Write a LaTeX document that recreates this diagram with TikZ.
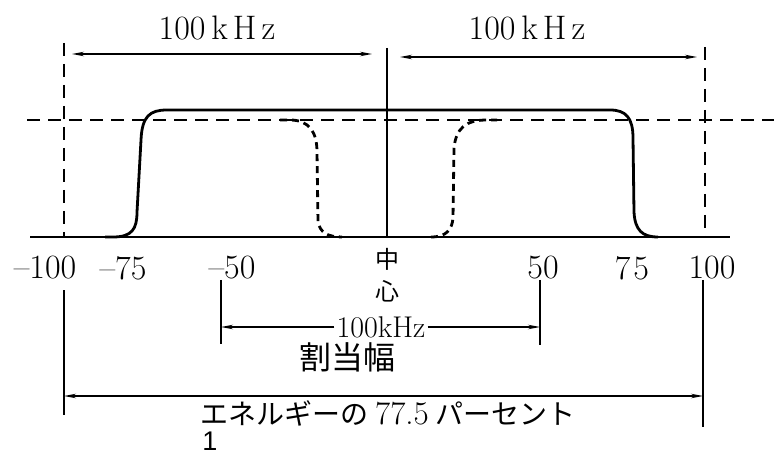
\documentclass[tikz,border=0pt]{standalone}
\usepackage{fontspec}
\newfontfamily\cjk{Noto Sans CJK JP}
\newfontfamily\arialf{Liberation Sans}
\usetikzlibrary{arrows.meta}
\begin{document}
\begin{tikzpicture}[x=1pt,y=-1pt,
  lbl/.style={font=\fontsize{34}{36}\selectfont, inner sep=0pt},
  midlbl/.style={font=\fontsize{30}{32}\selectfont, inner sep=0pt},
  cjklbl/.style={font=\cjk\fontsize{24}{26}\selectfont, inner sep=0pt},
  dimline/.style={line width=1.4pt, {Stealth[length=12pt,width=4.5pt]}-{Stealth[length=12pt,width=4.5pt]}},
  oneway/.style={line width=1.4pt, -{Stealth[length=12pt,width=4.5pt]}},
  guide/.style={line width=1.8pt, dash pattern=on 13pt off 8pt},
  solidc/.style={line width=2.8pt, line join=round},
  dashc/.style={line width=2.8pt, dash pattern=on 7pt off 5pt},
  axisline/.style={line width=2pt},
  tick/.style={line width=1.8pt}]
\useasboundingbox (0,0) rectangle (774,457);

% coordinates
\coordinate (bl) at (30,237);
\coordinate (br) at (730,237);
\coordinate (lvt) at (64,43);
\coordinate (lvb) at (64,237);
\coordinate (cvt) at (387,48);
\coordinate (cvb) at (387,237);
\coordinate (rvt) at (705,47);
\coordinate (rvb) at (705,237);
\coordinate (hdl) at (27,120);
\coordinate (hdr) at (774,120);

% axis and guides
\draw[axisline] (bl) -- (br);
\draw[guide] (lvt) -- (lvb);
\draw[guide] (rvt) -- (rvb);
\draw[tick] (cvt) -- (cvb);
\draw[guide] (hdl) -- (hdr);

% solid curve
\draw[solidc] (105,237) -- (113,237) .. controls (132,237) and (137,229) .. (137,212)
  -- (141,140) .. controls (142,116) and (150,110) .. (167,110)
  -- (610,110) .. controls (626,110) and (633,118) .. (633,138)
  -- (634,212) .. controls (635,230) and (642,237) .. (658,237);

% dashed curve
\draw[dashc] (280,120) -- (290,120) .. controls (309,120) and (317,132) .. (317,152)
  -- (318,222) .. controls (320,232) and (327,237) .. (342,237);
\draw[dashc] (431,237) .. controls (446,237) and (452,230) .. (453,218)
  -- (454,148) .. controls (456,128) and (466,120) .. (487,120) -- (497,120);

% top dimension arrows
\coordinate (ta1) at (72,54);
\coordinate (ta2) at (372,54);
\coordinate (tb1) at (400,57);
\coordinate (tb2) at (697,57);
\draw[dimline] (ta1) -- (ta2);
\draw[dimline] (tb1) -- (tb2);
\node[lbl] (kl) at (217,28) {100\kern6pt k\kern5pt H\kern5pt z};
\node[lbl] (kr) at (527,28) {100\kern6pt k\kern5pt H\kern5pt z};

% axis labels
\node[lbl] (m100) at (45,268) {\textendash100};
\node[lbl] (m75) at (123,268) {\textendash75};
\node[lbl] (m50) at (232,268) {\textendash50};
\node[lbl] (p50) at (543,268) {50};
\node[lbl] (p75) at (632,268) {7\kern3pt 5};
\node[lbl] (p100) at (712,268) {100};
\node[cjklbl] (c1) at (387,259) {中};
\node[cjklbl] (c2) at (387,291) {心};

% allocated width bracket
\coordinate (mlt) at (221,280);
\coordinate (mlb) at (221,344);
\coordinate (mrt) at (540,280);
\coordinate (mrb) at (540,345);
\draw[tick] (mlt) -- (mlb);
\draw[tick] (mrt) -- (mrb);
\node[midlbl, inner xsep=2pt] (mk) at (381,327) {100kHz};
\coordinate (mla) at (221,327);
\coordinate (mra) at (540,327);
\draw[oneway] (mk.west) -- (mla);
\draw[oneway] (mk.east) -- (mra);
\node[font=\cjk\fontsize{32}{34}\selectfont, inner sep=0pt] (wid) at (347,357) {割当幅};

% energy bracket
\coordinate (elt) at (64,290);
\coordinate (elb) at (64,415);
\coordinate (ert) at (703,280);
\coordinate (erb) at (703,427);
\draw[tick] (elt) -- (elb);
\draw[tick] (ert) -- (erb);
\coordinate (ela) at (64,396);
\coordinate (era) at (703,396);
\draw[dimline] (ela) -- (era);
\node[inner sep=0pt, font=\cjk\fontsize{28}{30}\selectfont] (en) at (388,413)
  {エネルギーの {\rmfamily\fontsize{33}{35}\selectfont 77.5} パーセント};

\node[inner sep=0pt, anchor=south, font=\arialf\fontsize{27}{29}\selectfont] (one) at (210,451) {1};
\end{tikzpicture}
\end{document}
